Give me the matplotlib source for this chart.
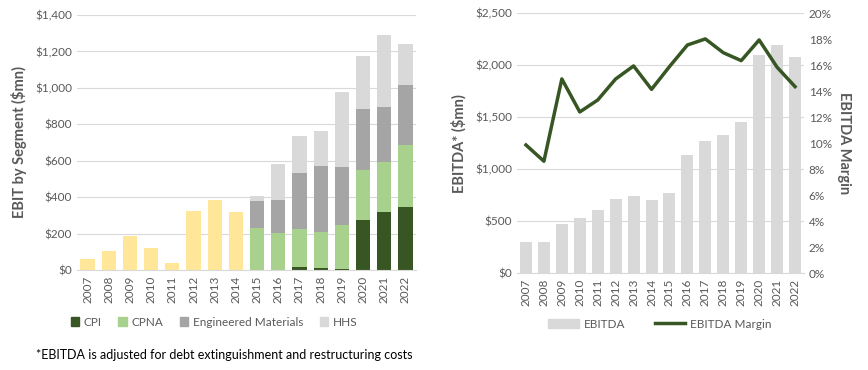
import matplotlib.pyplot as plt
import numpy as np
from matplotlib.ticker import FuncFormatter
from matplotlib.patches import Patch
from matplotlib.lines import Line2D

plt.rcParams['font.family'] = ['Lato', 'DejaVu Sans']

years = [str(y) for y in range(2007, 2023)]

# EBIT by segment ($mn); legacy = pre-segment totals 2007-2014
legacy = [61, 106, 184, 123, 39, 324, 385, 318, 0, 0, 0, 0, 0, 0, 0, 0]
cpi = [0, 0, 0, 0, 0, 0, 0, 0, 0, 0, 17, 11, 6, 273, 318, 346]
cpna = [0, 0, 0, 0, 0, 0, 0, 0, 229, 201, 206, 195, 239, 275, 274, 339]
eng_mat = [0, 0, 0, 0, 0, 0, 0, 0, 150, 184, 308, 364, 320, 334, 301, 328]
hhs = [0, 0, 0, 0, 0, 0, 0, 0, 28, 196, 203, 191, 410, 295, 399, 230]

# EBITDA ($mn) and margin (%)
ebitda = [301, 301, 477, 532, 609, 715, 744, 705, 772, 1138, 1272, 1330, 1455, 2099, 2195, 2080]
margin = [9.87, 8.62, 14.95, 12.41, 13.33, 14.95, 15.95, 14.15, 15.9, 17.56, 18.03, 16.97, 16.36, 17.95, 15.85, 14.36]

c_cpi = '#375623'
c_cpna = '#A9D18E'
c_em = '#A5A5A5'
c_hhs = '#D9D9D9'
c_legacy = '#FFE699'
txt = '#595959'
grid = '#D9D9D9'

fig = plt.figure(figsize=(8.68, 3.70), dpi=100)
ax1 = fig.add_axes([77 / 868, 1 - 270 / 370, (416 - 77) / 868, (270 - 15) / 370])
ax2 = fig.add_axes([517 / 868, 1 - 273.3 / 370, (804 - 517) / 868, (273.3 - 13.3) / 370])

x = np.arange(len(years))
w = 0.67

# left chart
cpi_a = np.array(cpi)
cpna_a = np.array(cpna)
em_a = np.array(eng_mat)
ax1.bar(x, legacy, w, color=c_legacy, zorder=2)
ax1.bar(x, cpi, w, color=c_cpi, zorder=2)
ax1.bar(x, cpna, w, bottom=cpi_a, color=c_cpna, zorder=2)
ax1.bar(x, eng_mat, w, bottom=cpi_a + cpna_a, color=c_em, zorder=2)
ax1.bar(x, hhs, w, bottom=cpi_a + cpna_a + em_a, color=c_hhs, zorder=2)
ax1.set_ylim(0, 1400)
ax1.set_yticks(range(0, 1401, 200))
ax1.yaxis.set_major_formatter(FuncFormatter(lambda v, p: '${:,.0f}'.format(v)))
ax1.set_xlim(-0.5, len(years) - 0.5)
ax1.set_ylabel('EBIT by Segment ($mn)', fontsize=10.5, fontweight='bold', color=txt, labelpad=6)

# right chart
ax2.bar(x, ebitda, w, color=c_hhs, zorder=2)
ax2.set_ylim(0, 2500)
ax2.set_yticks(range(0, 2501, 500))
ax2.yaxis.set_major_formatter(FuncFormatter(lambda v, p: '${:,.0f}'.format(v)))
ax2.set_xlim(-0.5, len(years) - 0.5)
ax2.set_ylabel('EBITDA* ($mn)', fontsize=10.5, fontweight='bold', color=txt, labelpad=6)
ax3 = ax2.twinx()
ax3.plot(x, margin, color=c_cpi, lw=2.5, zorder=3)
ax3.set_ylim(0, 20)
ax3.set_yticks(range(0, 21, 2))
ax3.yaxis.set_major_formatter(FuncFormatter(lambda v, p: '{:.0f}%'.format(v)))
ax3.set_ylabel('EBITDA Margin', fontsize=10.5, fontweight='bold', color=txt, rotation=270, labelpad=14)

for ax in (ax1, ax2, ax3):
    for s in ax.spines.values():
        s.set_visible(False)
    ax.tick_params(length=0, labelsize=8.5, colors=txt)
for ax in (ax1, ax2):
    ax.spines['bottom'].set_visible(True)
    ax.spines['bottom'].set_color(grid)
    ax.yaxis.grid(True, color=grid, lw=0.8, zorder=0)
    ax.set_axisbelow(True)
    ax.set_xticks(x)
    ax.set_xticklabels(years, rotation=90)
    ax.tick_params(axis='x', pad=4)

h1 = [Patch(color=c) for c in (c_cpi, c_cpna, c_em, c_hhs)]
fig.legend(h1, ['CPI', 'CPNA', 'Engineered Materials', 'HHS'], loc='center',
           bbox_to_anchor=(214 / 868, 1 - 322 / 370), ncol=4, frameon=False,
           fontsize=8.5, labelcolor=txt, handlelength=0.7, handleheight=0.7,
           handletextpad=0.4, columnspacing=1.4)
h2 = [Patch(color=c_hhs), Line2D([0], [0], color=c_cpi, lw=2.5)]
fig.legend(h2, ['EBITDA', 'EBITDA Margin'], loc='center',
           bbox_to_anchor=(660 / 868, 1 - 324 / 370), ncol=2, frameon=False,
           fontsize=8.5, labelcolor=txt, handlelength=2.6, handleheight=0.7,
           handletextpad=0.4, columnspacing=2.5)

fig.text(224 / 868, 1 - 355 / 370, '*EBITDA is adjusted for debt extinguishment and restructuring costs',
         ha='center', va='center', fontsize=9, color='black')

fig.savefig('out.png', dpi=100)
